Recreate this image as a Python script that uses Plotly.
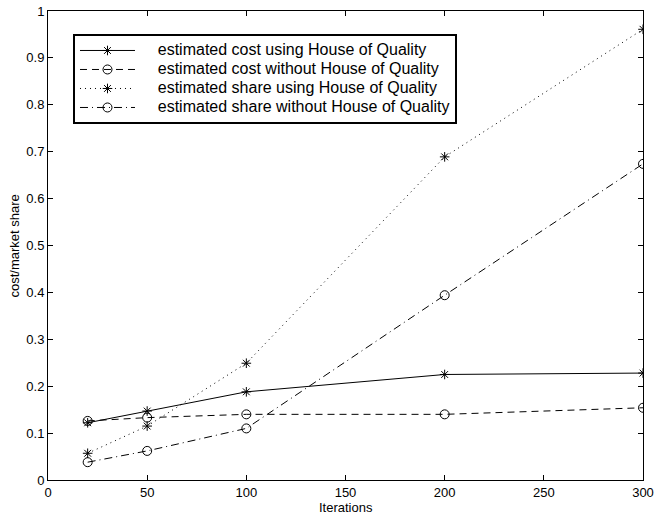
import plotly.graph_objects as go

iterations = [20, 50, 100, 200, 300]
cost_with_hoq = [0.122, 0.147, 0.188, 0.225, 0.228]
cost_without_hoq = [0.126, 0.133, 0.140, 0.140, 0.154]
share_with_hoq = [0.057, 0.115, 0.249, 0.689, 0.961]
share_without_hoq = [0.038, 0.062, 0.110, 0.394, 0.674]

names = [
    "estimated cost using House of Quality",
    "estimated cost without House of Quality",
    "estimated share using House of Quality",
    "estimated share without House of Quality",
]
series = [cost_with_hoq, cost_without_hoq, share_with_hoq, share_without_hoq]
dashes = ["solid", "7px,5px", "1px,4px", "8px,4px,1px,4px"]
symbols = ["asterisk-open", "circle-open", "asterisk-open", "circle-open"]
sizes = [8, 9, 8, 9]

FONT = "Liberation Sans, Arial, Helvetica"
PAD = "\u00a0" * 4

fig = go.Figure()
for name, ys, d, s, sz in zip(names, series, dashes, symbols, sizes):
    fig.add_trace(go.Scatter(
        x=iterations, y=ys, mode="lines+markers",
        name='<span style="font-size:16px">' + PAD + name + "</span>",
        line=dict(color="black", width=1, dash=d),
        marker=dict(symbol=s, size=sz, color="black",
                    line=dict(color="black", width=1)),
    ))

axis_common = dict(
    showline=True, linecolor="black", linewidth=1, mirror="ticks",
    ticks="inside", ticklen=5, tickcolor="black", showgrid=False,
    zeroline=False, automargin=False,
    tickfont=dict(family=FONT, size=13, color="black"),
)
fig.update_xaxes(range=[0, 300], dtick=50, tick0=0, **axis_common)
fig.update_yaxes(range=[0, 1], dtick=0.1, tick0=0, **axis_common)

fig.add_annotation(text="Iterations", xref="paper", yref="paper",
                   x=0.5, y=-0.0576, xanchor="center", yanchor="middle",
                   showarrow=False, font=dict(size=13, family=FONT, color="black"))
fig.add_annotation(text="cost/market share", xref="paper", yref="paper",
                   x=-0.0555, y=0.5, xanchor="center", yanchor="middle",
                   textangle=-90, showarrow=False,
                   font=dict(size=13, family=FONT, color="black"))

fig.update_layout(
    width=655, height=521,
    margin=dict(l=48, r=12, t=11, b=41),
    paper_bgcolor="white", plot_bgcolor="white",
    font=dict(family=FONT, color="black"),
    showlegend=True,
    legend=dict(
        x=0.042, y=0.951, xanchor="left", yanchor="top",
        bgcolor="white", bordercolor="black", borderwidth=2,
        font=dict(size=11, family=FONT, color="black"),
        itemwidth=55, tracegroupgap=0,
    ),
)

fig.write_html(
    "out.html",
    config={"displayModeBar": False},
    post_script="document.body.style.margin='0';document.body.style.overflow='hidden';",
)
